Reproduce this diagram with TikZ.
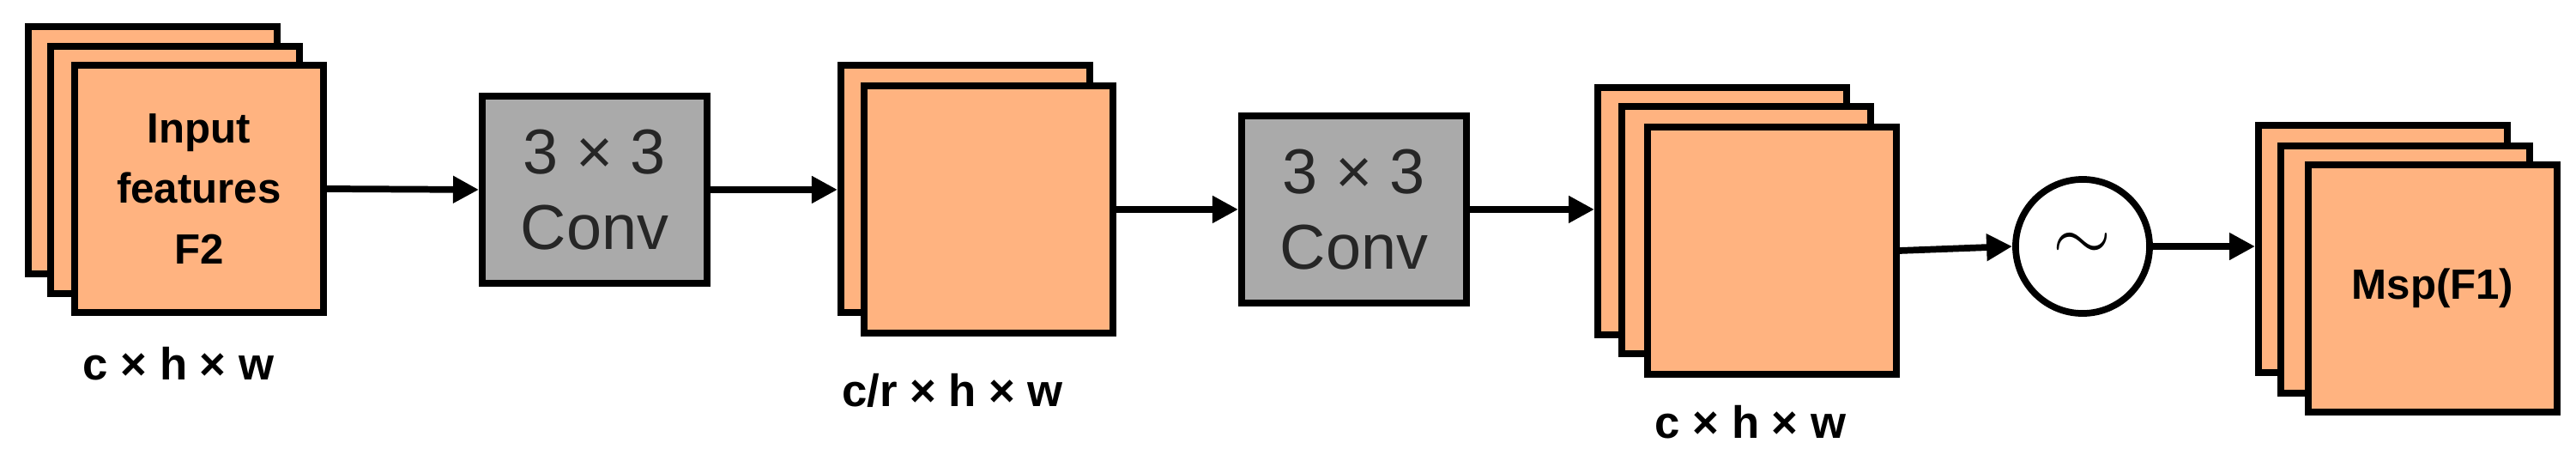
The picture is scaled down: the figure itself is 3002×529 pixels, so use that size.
\documentclass[tikz,border=0pt]{standalone}
\usepackage{fontspec}
\setmainfont{Liberation Sans}
\usetikzlibrary{arrows.meta}
\definecolor{sheetfill}{HTML}{FFB380}
\definecolor{convfill}{HTML}{AAAAAA}
\tikzset{
  sheet/.style={draw, line width=2.2pt, fill=sheetfill, anchor=north west,
    minimum width=2.9cm, minimum height=2.88cm, inner sep=0pt},
  conv/.style={draw, line width=2.2pt, fill=convfill, anchor=north west,
    minimum width=2.62cm, minimum height=2.18cm, align=center,
    font=\fontsize{21}{25}\selectfont, text=black!85},
  dim/.style={font=\bfseries\fontsize{15}{18}\selectfont},
  flow/.style={line width=2.2pt, -{Triangle[length=0.3cm,width=0.3cm]}}
}
\begin{document}
\begin{tikzpicture}[x=0.01cm, y=-0.01cm]
  \useasboundingbox (0,0) rectangle (3002,529);
  % input stack
  \node[sheet] (s1a) at (29,27) {};
  \node[sheet] (s1b) at (55,50) {};
  \node[sheet, align=center, font=\bfseries\fontsize{14}{20}\selectfont] (s1c) at (83,72) {Input\\features\\F2};
  \node[dim] (l1) at (208,424) {c × h × w};
  \node[conv] (c1) at (558,108) {3 × 3\\Conv};
  % reduced stack
  \node[sheet] (s2a) at (976,72) {};
  \node[sheet] (s2b) at (1003,96) {};
  \node[dim] (l2) at (1110,455) {c/r × h × w};
  \node[conv] (c2) at (1443,131) {3 × 3\\Conv};
  % restored stack
  \node[sheet] (s3a) at (1858,98) {};
  \node[sheet] (s3b) at (1886,120) {};
  \node[sheet] (s3c) at (1916,144) {};
  \node[dim] (l3) at (2040,492) {c × h × w};
  \node[circle, draw, line width=2.2pt, minimum size=1.56cm, inner sep=0pt,
    font=\fontsize{30}{30}\selectfont] (sig) at (2427,287) {$\sim$};
  % output stack
  \node[sheet] (s4a) at (2628,142) {};
  \node[sheet] (s4b) at (2654,166) {};
  \node[sheet, font=\bfseries\fontsize{14}{18}\selectfont] (s4c) at (2686,188) {Msp(F1)};
  \draw[flow] (s1c.east) -- (c1.west);
  \draw[flow] (c1.east) -- (c1.east -| s2a.west);
  \draw[flow] (s2b.east) -- (c2.west);
  \draw[flow] (c2.east) -- (c2.east -| s3a.west);
  \draw[flow] (s3c.east) -- (sig.west);
  \draw[flow] (sig.east) -- (sig.east -| s4a.west);
\end{tikzpicture}
\end{document}
